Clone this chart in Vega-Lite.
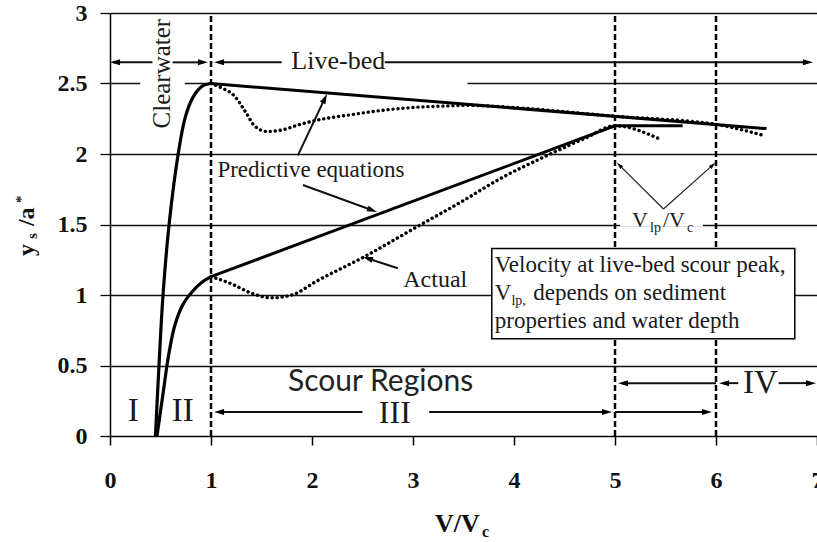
{
  "$schema": "https://vega.github.io/schema/vega-lite/v6.json",
  "width": 707,
  "height": 423,
  "autosize": {"type": "none"},
  "padding": {"left": 110, "top": 13, "right": 0, "bottom": 106},
  "background": "white",
  "config": {"view": {"stroke": null}},
  "datasets": {
    "gaps": [
      {"x": 0.30, "x2": 0.74, "y": 2.485, "y2": 2.515},
      {"x": 1.02, "x2": 3.54, "y": 2.485, "y2": 2.515},
      {"x": 5.05, "x2": 5.87, "y": 1.485, "y2": 1.515}
    ],
    "vlines": [
      {"x": 1, "y": 0, "y2": 3},
      {"x": 5, "y": 0, "y2": 3},
      {"x": 6, "y": 0, "y2": 3}
    ],
    "curves": [
      {"s": "cw_hi", "k": "cw", "x": 0.45, "y": 0},
      {"s": "cw_hi", "k": "cw", "x": 0.485, "y": 0.5},
      {"s": "cw_hi", "k": "cw", "x": 0.525, "y": 1.0},
      {"s": "cw_hi", "k": "cw", "x": 0.585, "y": 1.5},
      {"s": "cw_hi", "k": "cw", "x": 0.675, "y": 2.0},
      {"s": "cw_hi", "k": "cw", "x": 0.745, "y": 2.26},
      {"s": "cw_hi", "k": "cw", "x": 0.82, "y": 2.4},
      {"s": "cw_hi", "k": "cw", "x": 0.91, "y": 2.48},
      {"s": "cw_hi", "k": "cw", "x": 1.0, "y": 2.5},
      {"s": "cw_lo", "k": "cw", "x": 0.465, "y": 0},
      {"s": "cw_lo", "k": "cw", "x": 0.525, "y": 0.3},
      {"s": "cw_lo", "k": "cw", "x": 0.575, "y": 0.55},
      {"s": "cw_lo", "k": "cw", "x": 0.64, "y": 0.78},
      {"s": "cw_lo", "k": "cw", "x": 0.72, "y": 0.93},
      {"s": "cw_lo", "k": "cw", "x": 0.81, "y": 1.02},
      {"s": "cw_lo", "k": "cw", "x": 0.91, "y": 1.09},
      {"s": "cw_lo", "k": "cw", "x": 1.0, "y": 1.13},
      {"s": "pred_hi", "k": "pred", "x": 1.0, "y": 2.5},
      {"s": "pred_hi", "k": "pred", "x": 6.5, "y": 2.18},
      {"s": "pred_lo", "k": "pred", "x": 1.0, "y": 1.13},
      {"s": "pred_lo", "k": "pred", "x": 5.0, "y": 2.2},
      {"s": "pred_lo", "k": "pred", "x": 5.67, "y": 2.2},
      {"s": "act_hi", "k": "act", "x": 1.0, "y": 2.5},
      {"s": "act_hi", "k": "act", "x": 1.1, "y": 2.47},
      {"s": "act_hi", "k": "act", "x": 1.22, "y": 2.42},
      {"s": "act_hi", "k": "act", "x": 1.35, "y": 2.29},
      {"s": "act_hi", "k": "act", "x": 1.43, "y": 2.2},
      {"s": "act_hi", "k": "act", "x": 1.55, "y": 2.16},
      {"s": "act_hi", "k": "act", "x": 1.7, "y": 2.17},
      {"s": "act_hi", "k": "act", "x": 1.88, "y": 2.21},
      {"s": "act_hi", "k": "act", "x": 2.05, "y": 2.24},
      {"s": "act_hi", "k": "act", "x": 2.4, "y": 2.28},
      {"s": "act_hi", "k": "act", "x": 2.7, "y": 2.31},
      {"s": "act_hi", "k": "act", "x": 3.0, "y": 2.33},
      {"s": "act_hi", "k": "act", "x": 3.3, "y": 2.34},
      {"s": "act_hi", "k": "act", "x": 3.55, "y": 2.345},
      {"s": "act_hi", "k": "act", "x": 3.8, "y": 2.338},
      {"s": "act_hi", "k": "act", "x": 5.0, "y": 2.268},
      {"s": "act_hi", "k": "act", "x": 6.0, "y": 2.21},
      {"s": "act_hi", "k": "act", "x": 6.48, "y": 2.13},
      {"s": "act_lo", "k": "act", "x": 1.0, "y": 1.13},
      {"s": "act_lo", "k": "act", "x": 1.2, "y": 1.08},
      {"s": "act_lo", "k": "act", "x": 1.41, "y": 1.01},
      {"s": "act_lo", "k": "act", "x": 1.6, "y": 0.98},
      {"s": "act_lo", "k": "act", "x": 1.8, "y": 1.0},
      {"s": "act_lo", "k": "act", "x": 2.05, "y": 1.1},
      {"s": "act_lo", "k": "act", "x": 2.54, "y": 1.28},
      {"s": "act_lo", "k": "act", "x": 3.03, "y": 1.48},
      {"s": "act_lo", "k": "act", "x": 3.5, "y": 1.67},
      {"s": "act_lo", "k": "act", "x": 3.85, "y": 1.82},
      {"s": "act_lo", "k": "act", "x": 4.3, "y": 1.98},
      {"s": "act_lo", "k": "act", "x": 4.7, "y": 2.11},
      {"s": "act_lo", "k": "act", "x": 5.0, "y": 2.2},
      {"s": "act_lo", "k": "act", "x": 5.43, "y": 2.11}
    ],
    "box": [
      {"x": 3.78, "x2": 6.78, "y": 0.69, "y2": 1.33}
    ],
    "segs": [
      {"w": "thick", "x": 0.03, "y": 2.65, "x2": 0.42, "y2": 2.65},
      {"w": "thick", "x": 0.62, "y": 2.65, "x2": 0.93, "y2": 2.65},
      {"w": "thick", "x": 1.07, "y": 2.65, "x2": 1.70, "y2": 2.65},
      {"w": "thick", "x": 2.72, "y": 2.65, "x2": 6.90, "y2": 2.65},
      {"w": "thick", "x": 1.07, "y": 0.17, "x2": 2.50, "y2": 0.17},
      {"w": "thick", "x": 3.16, "y": 0.17, "x2": 4.92, "y2": 0.17},
      {"w": "thick", "x": 5.0, "y": 0.17, "x2": 5.90, "y2": 0.17},
      {"w": "thick", "x": 5.07, "y": 0.375, "x2": 6.0, "y2": 0.375},
      {"w": "thick", "x": 6.07, "y": 0.375, "x2": 6.22, "y2": 0.375},
      {"w": "thick", "x": 6.62, "y": 0.375, "x2": 6.93, "y2": 0.375},
      {"w": "thick", "x": 1.86, "y": 1.99, "x2": 2.127, "y2": 2.394},
      {"w": "thick", "x": 1.91, "y": 1.78, "x2": 2.597, "y2": 1.601},
      {"w": "thick", "x": 2.85, "y": 1.19, "x2": 2.552, "y2": 1.259},
      {"w": "thin", "x": 5.48, "y": 1.61, "x2": 5.043, "y2": 1.921},
      {"w": "thin", "x": 5.48, "y": 1.61, "x2": 5.967, "y2": 1.921}
    ],
    "heads": [
      {"w": "thick", "x": 0.05, "y": 2.65, "a": 270},
      {"w": "thick", "x": 0.92, "y": 2.65, "a": 90},
      {"w": "thick", "x": 1.08, "y": 2.65, "a": 270},
      {"w": "thick", "x": 6.91, "y": 2.65, "a": 90},
      {"w": "thick", "x": 1.08, "y": 0.17, "a": 270},
      {"w": "thick", "x": 4.92, "y": 0.17, "a": 90},
      {"w": "thick", "x": 5.91, "y": 0.17, "a": 90},
      {"w": "thick", "x": 5.08, "y": 0.375, "a": 270},
      {"w": "thick", "x": 6.08, "y": 0.375, "a": 270},
      {"w": "thick", "x": 6.94, "y": 0.375, "a": 90},
      {"w": "thick", "x": 2.127, "y": 2.394, "a": 25},
      {"w": "thick", "x": 2.597, "y": 1.601, "a": 110},
      {"w": "thick", "x": 2.552, "y": 1.259, "a": 287},
      {"w": "thin", "x": 5.043, "y": 1.921, "a": 314},
      {"w": "thin", "x": 5.967, "y": 1.921, "a": 47}
    ],
    "ctext": [
      {"t": "Live-bed", "x": 2.26, "y": 2.66, "sz": 26, "ang": 0},
      {"t": "Predictive equations", "x": 1.99, "y": 1.89, "sz": 23, "ang": 0},
      {"t": "Actual", "x": 3.22, "y": 1.106, "sz": 24, "ang": 0},
      {"t": "I", "x": 0.23, "y": 0.177, "sz": 33, "ang": 0},
      {"t": "II", "x": 0.72, "y": 0.177, "sz": 33, "ang": 0},
      {"t": "III", "x": 2.82, "y": 0.165, "sz": 32, "ang": 0},
      {"t": "IV", "x": 6.44, "y": 0.375, "sz": 33, "ang": 0},
      {"t": "Clearwater", "x": 0.515, "y": 2.57, "sz": 25, "ang": 270}
    ],
    "ltext": [
      {"t": "Velocity at live-bed scour peak,", "x": 3.81, "y": 1.163, "sz": 23},
      {"t": "V", "x": 3.81, "y": 0.965, "sz": 23},
      {"t": "lp,", "x": 3.975, "y": 0.929, "sz": 14},
      {"t": "depends on sediment", "x": 4.19, "y": 0.965, "sz": 23},
      {"t": "properties and water depth", "x": 3.81, "y": 0.766, "sz": 23},
      {"t": "V", "x": 5.168, "y": 1.482, "sz": 22},
      {"t": "lp", "x": 5.347, "y": 1.447, "sz": 14},
      {"t": "/V", "x": 5.475, "y": 1.482, "sz": 22},
      {"t": "c", "x": 5.713, "y": 1.447, "sz": 14}
    ],
    "stext": [
      {"t": "Scour Regions", "x": 2.68, "y": 0.32, "sz": 30}
    ],
    "xtitle": [
      {"t": "V/V", "x": 3.218, "y": -0.681, "sz": 26},
      {"t": "c", "x": 3.683, "y": -0.716, "sz": 16}
    ],
    "ytitle": [
      {"t": "y", "x": -0.752, "y": 1.277, "sz": 24},
      {"t": "s", "x": -0.723, "y": 1.397, "sz": 15},
      {"t": "/a", "x": -0.752, "y": 1.489, "sz": 24},
      {"t": "*", "x": -0.832, "y": 1.652, "sz": 15}
    ]
  },
  "encoding": {
    "x": {"field": "x", "type": "quantitative", "scale": {"domain": [0, 7], "nice": false, "zero": false},
      "axis": {"values": [0, 1, 2, 3, 4, 5, 6, 7], "grid": false, "domain": true, "domainColor": "#000", "domainWidth": 1.2,
        "ticks": true, "tickSize": 9, "tickColor": "#000", "tickWidth": 1.5,
        "labelFont": "Liberation Serif", "labelFontWeight": "bold", "labelFontSize": 24, "labelColor": "#111",
        "labelBaseline": "alphabetic", "labelPadding": 42, "labelFlush": false, "labelOverlap": false, "title": null}},
    "y": {"field": "y", "type": "quantitative", "scale": {"domain": [0, 3], "nice": false, "zero": false},
      "axis": {"values": [0, 0.5, 1, 1.5, 2, 2.5, 3], "grid": true, "gridColor": "#111", "gridWidth": 1.3,
        "domain": true, "domainColor": "#000", "domainWidth": 1.5,
        "ticks": true, "tickSize": 10, "tickColor": "#000", "tickWidth": 1.3,
        "labelFont": "Liberation Serif", "labelFontWeight": "bold", "labelFontSize": 24, "labelColor": "#111",
        "labelPadding": 13, "labelFlush": false, "labelOverlap": false, "labelExpr": "'' + datum.value", "title": null}}
  },
  "layer": [
    {
      "data": {"name": "gaps"},
      "mark": {"type": "rect", "fill": "white", "strokeWidth": 0},
      "encoding": {"x2": {"field": "x2"}, "y2": {"field": "y2"}}
    },
    {
      "data": {"name": "vlines"},
      "mark": {"type": "rule", "stroke": "#000", "strokeWidth": 2.5, "strokeDash": [6, 3]},
      "encoding": {"y2": {"field": "y2"}}
    },
    {
      "data": {"name": "curves"},
      "transform": [{"filter": "datum.k === 'cw'"}],
      "mark": {"type": "line", "stroke": "#000", "strokeWidth": 3.2, "interpolate": "catmull-rom"},
      "encoding": {"detail": {"field": "s"}}
    },
    {
      "data": {"name": "curves"},
      "transform": [{"filter": "datum.k === 'pred'"}],
      "mark": {"type": "line", "stroke": "#000", "strokeWidth": 3, "interpolate": "linear"},
      "encoding": {"detail": {"field": "s"}}
    },
    {
      "data": {"name": "curves"},
      "transform": [{"filter": "datum.k === 'act'"}],
      "mark": {"type": "line", "stroke": "#000", "strokeWidth": 3.4, "interpolate": "monotone", "strokeDash": [0.1, 4.9], "strokeCap": "round"},
      "encoding": {"detail": {"field": "s"}}
    },
    {
      "data": {"name": "box"},
      "mark": {"type": "rect", "fill": "white", "stroke": "#000", "strokeWidth": 1.5},
      "encoding": {"x2": {"field": "x2"}, "y2": {"field": "y2"}}
    },
    {
      "data": {"name": "segs"},
      "transform": [{"filter": "datum.w === 'thick'"}],
      "mark": {"type": "rule", "stroke": "#111", "strokeWidth": 2},
      "encoding": {"x2": {"field": "x2"}, "y2": {"field": "y2"}}
    },
    {
      "data": {"name": "segs"},
      "transform": [{"filter": "datum.w === 'thin'"}],
      "mark": {"type": "rule", "stroke": "#222", "strokeWidth": 1.2},
      "encoding": {"x2": {"field": "x2"}, "y2": {"field": "y2"}}
    },
    {
      "data": {"name": "heads"},
      "transform": [{"filter": "datum.w === 'thick'"}],
      "mark": {"type": "point", "filled": true, "fill": "#000", "opacity": 1, "size": 100, "shape": "M0,-1L0.6,1L-0.6,1Z"},
      "encoding": {"angle": {"field": "a", "type": "quantitative", "scale": null}}
    },
    {
      "data": {"name": "heads"},
      "transform": [{"filter": "datum.w === 'thin'"}],
      "mark": {"type": "point", "filled": true, "fill": "#000", "opacity": 1, "size": 45, "shape": "M0,-1L0.6,1L-0.6,1Z"},
      "encoding": {"angle": {"field": "a", "type": "quantitative", "scale": null}}
    },
    {
      "data": {"name": "ctext"},
      "mark": {"type": "text", "font": "Liberation Serif", "color": "#1a1a1a", "align": "center", "baseline": "middle"},
      "encoding": {
        "text": {"field": "t", "type": "nominal"},
        "size": {"field": "sz", "type": "quantitative", "scale": null},
        "angle": {"field": "ang", "type": "quantitative", "scale": null}
      }
    },
    {
      "data": {"name": "ltext"},
      "mark": {"type": "text", "font": "Liberation Serif", "color": "#1a1a1a", "align": "left", "baseline": "alphabetic"},
      "encoding": {
        "text": {"field": "t", "type": "nominal"},
        "size": {"field": "sz", "type": "quantitative", "scale": null}
      }
    },
    {
      "data": {"name": "stext"},
      "mark": {"type": "text", "font": "Lato", "color": "#222", "align": "center", "baseline": "alphabetic"},
      "encoding": {
        "text": {"field": "t", "type": "nominal"},
        "size": {"field": "sz", "type": "quantitative", "scale": null}
      }
    },
    {
      "data": {"name": "xtitle"},
      "mark": {"type": "text", "font": "Liberation Serif", "fontWeight": "bold", "color": "#111", "align": "left", "baseline": "alphabetic"},
      "encoding": {
        "text": {"field": "t", "type": "nominal"},
        "size": {"field": "sz", "type": "quantitative", "scale": null}
      }
    },
    {
      "data": {"name": "ytitle"},
      "mark": {"type": "text", "font": "Liberation Serif", "fontWeight": "bold", "color": "#111", "align": "left", "baseline": "alphabetic", "angle": 270},
      "encoding": {
        "text": {"field": "t", "type": "nominal"},
        "size": {"field": "sz", "type": "quantitative", "scale": null}
      }
    }
  ]
}
